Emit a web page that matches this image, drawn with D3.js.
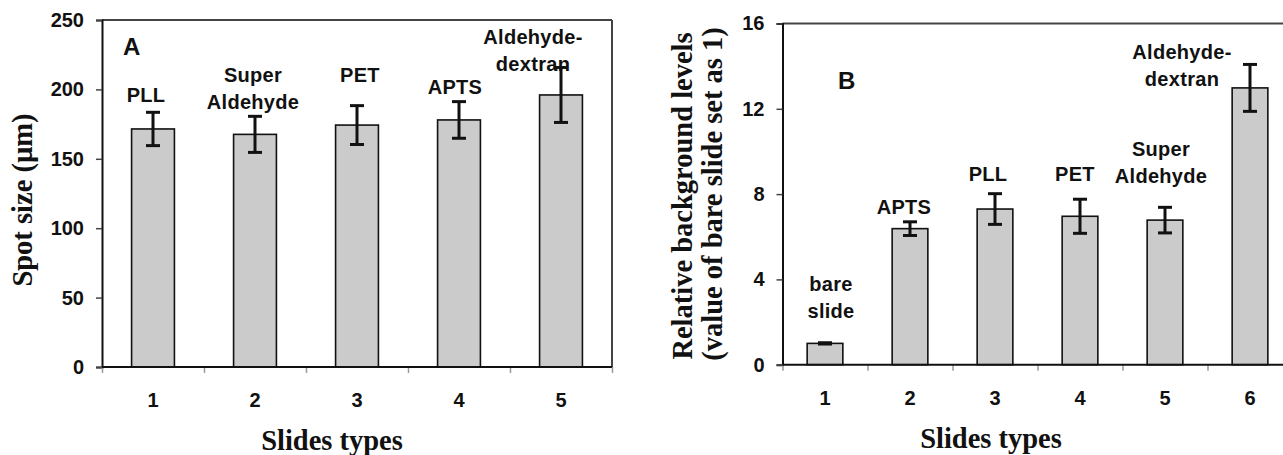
<!DOCTYPE html>
<html>
<head>
<meta charset="utf-8">
<script src="https://cdn.jsdelivr.net/npm/d3@7.9.0/dist/d3.min.js"></script>
<style>
  body { margin: 0; background: #fff; }
  svg { display: block; }
  .tick text { font-family: "Liberation Sans", Arial, sans-serif; font-weight: bold; font-size: 20px; fill: #111; }
  .title { font-family: "Liberation Serif", "Times New Roman", serif; font-weight: bold; font-size: 28.5px; fill: #111; }
  .barlabel { font-family: "Liberation Sans", Arial, sans-serif; font-weight: bold; font-size: 20px; letter-spacing: 0.3px; fill: #111; }
  .panel { font-family: "Liberation Sans", Arial, sans-serif; font-weight: bold; font-size: 24px; fill: #111; }
</style>
</head>
<body>
<svg id="chart" width="1283" height="455"></svg>
<script>
// ─────────── DATA ───────────
// panel A : spot size
const catsA = ["1", "2", "3", "4", "5"];
const namesA = [["PLL"], ["Super", "Aldehyde"], ["PET"], ["APTS"], ["Aldehyde-", "dextran"]];
const meanA = [171.5, 167.6, 174.3, 178, 196];
const errA = [12, 13, 14, 13.2, 19.8];
const ticksA = [0, 50, 100, 150, 200, 250];

// panel B : relative background
const catsB = ["1", "2", "3", "4", "5", "6"];
const namesB = [["bare", "slide"], ["APTS"], ["PLL"], ["PET"], ["Super", "Aldehyde"], ["Aldehyde-", "dextran"]];
const meanB = [1.0, 6.38, 7.3, 6.96, 6.78, 12.98];
const errB = [0.03, 0.32, 0.72, 0.8, 0.6, 1.1];
const ticksB = [0, 4, 8, 12, 16];

// label anchors (value of the lowest text line) for each bar
const labelValA = [190.9, 185.9, 205.3, 196.7, 212.9];
const labelValB = [2.19, 7.06, 8.6, 8.6, 8.51, 13.07];


// ─────────── LAYOUT ───────────
const svg = d3.select("#chart");
const lineH = 27;

function drawPanel(opt) {
  const { cats, names, mean, err, ticks, labelVal, labelDx, x0, x1, y0, y1, yMax, frameRight } = opt;

  const x = d3.scaleBand().domain(cats).range([x0, x1]).paddingInner(0.58).paddingOuter(0.29);
  const xEdge = d3.scaleLinear().domain([0, cats.length]).range([x0, x1]);
  const y = d3.scaleLinear().domain([0, yMax]).range([y1, y0]);

  const g = svg.append("g");

  // frame (top + right)
  g.append("line").attr("x1", x0).attr("x2", Math.min(x1, 1283)).attr("y1", y0).attr("y2", y0)
    .attr("stroke", "#444").attr("stroke-width", 2);
  if (frameRight) {
    g.append("line").attr("x1", x1).attr("x2", x1).attr("y1", y0).attr("y2", y1)
      .attr("stroke", "#444").attr("stroke-width", 2);
  }

  // bars
  g.selectAll("rect.bar").data(mean).join("rect")
    .attr("class", "bar")
    .attr("x", (d, i) => x(cats[i]))
    .attr("width", x.bandwidth())
    .attr("y", d => y(d))
    .attr("height", d => y(0) - y(d))
    .attr("fill", "#cbcbcb")
    .attr("stroke", "#111")
    .attr("stroke-width", 1.6);

  // error bars
  const eb = g.selectAll("g.err").data(mean).join("g").attr("class", "err")
    .attr("stroke", "#111").attr("stroke-width", 3);
  const cx = i => x(cats[i]) + x.bandwidth() / 2;
  eb.append("line")
    .attr("x1", (d, i) => cx(i)).attr("x2", (d, i) => cx(i))
    .attr("y1", (d, i) => y(d + err[i])).attr("y2", (d, i) => y(d - err[i]));
  [1, -1].forEach(s => {
    eb.append("line")
      .attr("x1", (d, i) => cx(i) - 7).attr("x2", (d, i) => cx(i) + 7)
      .attr("y1", (d, i) => y(d + s * err[i])).attr("y2", (d, i) => y(d + s * err[i]));
  });

  // y axis
  const yAxis = g.append("g").attr("transform", `translate(${x0},0)`)
    .call(d3.axisLeft(y).tickValues(ticks).tickSize(6).tickPadding(12));
  yAxis.select(".domain").attr("stroke", "#111").attr("stroke-width", 2);
  yAxis.selectAll(".tick line").attr("stroke", "#444").attr("stroke-width", 1.5);

  // x boundary ticks
  const xt = g.append("g").attr("transform", `translate(0,${y1})`)
    .call(d3.axisBottom(xEdge).tickValues(d3.range(cats.length + 1)).tickFormat("").tickSize(6));
  xt.select(".domain").remove();
  xt.selectAll(".tick line").attr("stroke", "#999").attr("stroke-width", 1.5);

  // x labels
  const xl = g.append("g").attr("transform", `translate(0,${y1})`)
    .call(d3.axisBottom(x).tickSize(0).tickPadding(26));
  xl.select(".domain").remove();

  // x axis line
  g.append("line").attr("x1", x0).attr("x2", Math.min(x1, 1283)).attr("y1", y1).attr("y2", y1)
    .attr("stroke", "#111").attr("stroke-width", 2);

  // bar name labels
  names.forEach((lines, i) => {
    const t = g.append("text").attr("class", "barlabel").attr("text-anchor", "middle")
      .attr("x", cx(i) + labelDx[i])
      .attr("y", y(labelVal[i]) - (lines.length - 1) * lineH);
    lines.forEach((s, k) => {
      t.append("tspan").attr("x", cx(i) + labelDx[i]).attr("dy", k === 0 ? 0 : lineH).text(s);
    });
  });

  return { x, y };
}

// ─────────── PANEL A ───────────
drawPanel({
  cats: catsA, names: namesA, mean: meanA, err: errA, ticks: ticksA,
  labelVal: labelValA, labelDx: [-7, -2, 3, -4, -28],
  x0: 102, x1: 612, y0: 20, y1: 367, yMax: 250, frameRight: true
});
svg.append("text").attr("class", "panel").attr("x", 123).attr("y", 55).text("A");
svg.append("text").attr("class", "title").attr("text-anchor", "middle")
  .attr("x", 332).attr("y", 450).text("Slides types");
svg.append("text").attr("class", "title").attr("text-anchor", "middle")
  .attr("transform", "translate(32,200) rotate(-90)").text("Spot size (µm)");

// ─────────── PANEL B ───────────
drawPanel({
  cats: catsB, names: namesB, mean: meanB, err: errB, ticks: ticksB,
  labelVal: labelValB, labelDx: [6, -6, -7, -5, -4, -68],
  x0: 782.5, x1: 1292.5, y0: 23.5, y1: 364.7, yMax: 16, frameRight: false
});
svg.append("text").attr("class", "panel").attr("x", 838).attr("y", 89).text("B");
svg.append("text").attr("class", "title").attr("text-anchor", "middle")
  .attr("x", 991).attr("y", 448).text("Slides types");
svg.append("text").attr("class", "title").attr("text-anchor", "middle")
  .attr("transform", "translate(692,196) rotate(-90)").text("Relative background levels");
svg.append("text").attr("class", "title").attr("text-anchor", "middle")
  .attr("transform", "translate(722,194) rotate(-90)").text("(value of bare slide set as 1)");
</script>
</body>
</html>
